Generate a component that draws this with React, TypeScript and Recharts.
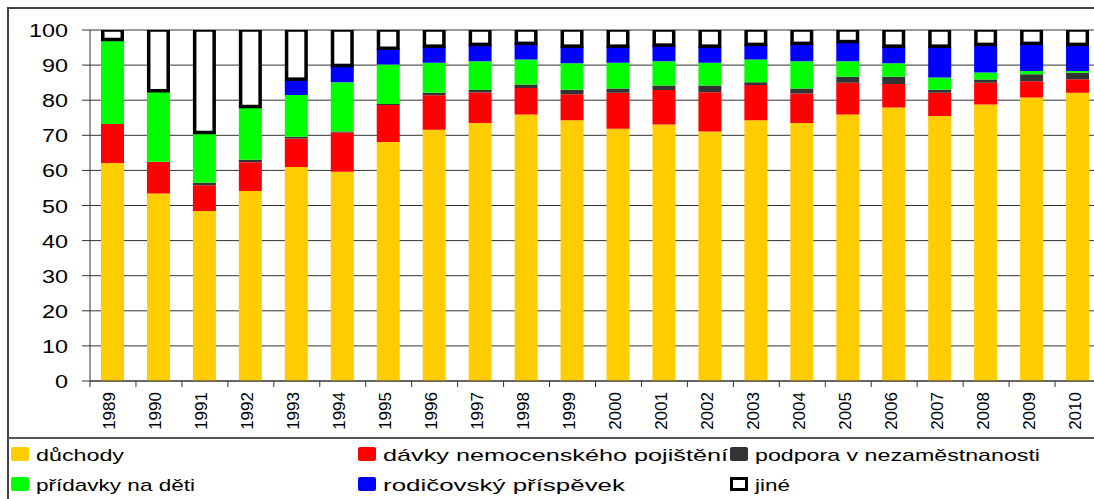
import { BarChart, Bar, XAxis, YAxis, CartesianGrid } from 'recharts';

const years = ['1989', '1990', '1991', '1992', '1993', '1994', '1995', '1996', '1997', '1998', '1999',
  '2000', '2001', '2002', '2003', '2004', '2005', '2006', '2007', '2008', '2009', '2010'];

const duchody = [62.1, 53.4, 48.4, 54.1, 61.0, 59.6, 68.1, 71.6, 73.5, 75.9, 74.3, 71.9, 73.1, 71.1, 74.3, 73.5, 75.9, 77.9, 75.5, 78.8, 80.8, 82.1];
const davky = [11.1, 9.1, 7.4, 8.2, 8.1, 11.2, 10.5, 9.8, 8.7, 7.6, 7.4, 10.2, 9.8, 11.2, 10.0, 8.4, 9.1, 6.7, 6.6, 6.2, 4.6, 3.9];
const podpora = [0, 0, 0.7, 0.7, 0.5, 0.3, 0.3, 0.7, 0.7, 1.0, 1.3, 1.2, 1.3, 1.9, 0.8, 1.4, 1.7, 2.1, 0.9, 0.9, 2.0, 1.8];
const pridavky = [24.1, 20.2, 14.3, 15.2, 11.9, 14.0, 11.3, 8.6, 8.2, 7.1, 7.5, 7.4, 6.9, 6.5, 6.5, 7.8, 4.4, 3.8, 3.5, 2.0, 0.9, 0.5];
const rodicovsky = [0, 0, 0, 0, 4.5, 4.8, 4.6, 4.7, 4.8, 4.6, 4.9, 4.7, 4.6, 4.7, 4.3, 5.1, 5.6, 4.9, 8.9, 8.0, 7.9, 7.6];
const jine = [2.7, 17.3, 29.2, 21.8, 14.0, 10.1, 5.2, 4.6, 4.1, 3.8, 4.6, 4.6, 4.3, 4.6, 4.1, 3.8, 3.3, 4.6, 4.6, 4.1, 3.8, 4.1];

const yTicks = [0, 10, 20, 30, 40, 50, 60, 70, 80, 90, 100];

// stacked bottom -> top, legend reads row by row in the same order
const series = [
  { key: 'duchody', name: 'důchody', color: '#FFCC00', values: duchody },
  { key: 'davky', name: 'dávky nemocenského pojištění', color: '#FF0000', values: davky },
  { key: 'podpora', name: 'podpora v nezaměstnanosti', color: '#333333', values: podpora },
  { key: 'pridavky', name: 'přídavky na děti', color: '#00FF00', values: pridavky },
  { key: 'rodicovsky', name: 'rodičovský příspěvek', color: '#0000FF', values: rodicovsky },
  { key: 'jine', name: 'jiné', color: '#FFFFFF', values: jine },
];

const data = years.map((year, i) => {
  const row: Record<string, string | number> = { year };
  series.forEach(s => { row[s.key] = s.values[i]; });
  return row;
});

const FONT = '"Liberation Sans", Arial, sans-serif';
const CHART_W = 1110;
const MARGIN = { top: 30, right: 9, left: 0, bottom: 0 };
const Y_AXIS_W = 90;
const BAND = (CHART_W - MARGIN.right - Y_AXIS_W) / years.length;

// legend layout (page coordinates)
const legendCols = [11, 358, 730];
const legendRows = [447, 477];
const legendTextW = [88, 345, 285, 159, 242, 35];

function YearTick({ x, y, payload }: any) {
  const bx = x - BAND / 2;
  const tx = x + 2.5;
  const ty = y + 11;
  return (
    <g>
      <line x1={bx} y1={y} x2={bx} y2={y + 6} stroke="#333" />
      <text x={tx} y={ty} transform={`rotate(-90, ${tx}, ${ty})`} textAnchor="end" fontSize={17} fontFamily={FONT} fill="#000">
        {payload.value}
      </text>
    </g>
  );
}

function ValueTick({ x, y, payload }: any) {
  const s = String(payload.value);
  return (
    <text x={x} y={y + 7} textAnchor="end" fontSize={18} fontFamily={FONT} fill="#000"
      textLength={s.length * 13} lengthAdjust="spacingAndGlyphs">
      {s}
    </text>
  );
}

function JineBox({ x, y, width, height }: any) {
  if (!height) return null;
  return <rect x={x + 1.75} y={y} width={width - 3.5} height={height} fill="#fff" stroke="#000" strokeWidth={3.5} />;
}

export default function App() {
  return (
    <div style={{ position: 'absolute', left: 0, top: 0, width: 1094, height: 499, overflow: 'hidden', background: '#fff' }}>
      {/* frame */}
      <div style={{ position: 'absolute', left: 7, top: 7, width: 1200, height: 600, border: '2px solid #404040' }} />
      <div style={{ position: 'absolute', left: 8, top: 437, width: 1200, height: 2, background: '#555' }} />

      <div style={{ position: 'absolute', left: 0, top: 0 }}>
        <BarChart width={CHART_W} height={499} data={data} margin={MARGIN} barSize={23}>
          <CartesianGrid horizontal vertical={false} stroke="#333" strokeOpacity={1} />
          <XAxis dataKey="year" interval={0} tickLine={false} tickSize={0} tickMargin={0}
            tick={<YearTick />} axisLine={{ stroke: '#333' }} height={118} />
          <YAxis domain={[0, 100]} ticks={yTicks} width={Y_AXIS_W} tickSize={8} tickMargin={14}
            tick={<ValueTick />} tickLine={{ stroke: '#333' }} axisLine={{ stroke: '#333' }} allowDataOverflow />
          {series.map(s => (
            s.key === 'jine'
              ? <Bar key={s.key} dataKey={s.key} name={s.name} stackId="a" fill="#fff" isAnimationActive={false} shape={<JineBox />} />
              : <Bar key={s.key} dataKey={s.key} name={s.name} stackId="a" fill={s.color} isAnimationActive={false} />
          ))}
        </BarChart>
      </div>

      {/* legend */}
      <svg width={1094} height={499} style={{ position: 'absolute', left: 0, top: 0, pointerEvents: 'none' }}>
        {series.map((s, i) => {
          const lx = legendCols[i % 3];
          const ly = legendRows[Math.floor(i / 3)];
          return (
            <g key={s.key}>
              {s.key === 'jine'
                ? <rect x={lx + 1.5} y={ly + 1.5} width={15} height={11} fill="#fff" stroke="#000" strokeWidth={3} />
                : <rect x={lx} y={ly} width={18} height={14} rx={2} fill={s.color} />}
              <text x={lx + 25} y={ly + 14} fontSize={17} fontFamily={FONT} fill="#000"
                textLength={legendTextW[i]} lengthAdjust="spacingAndGlyphs">
                {s.name}
              </text>
            </g>
          );
        })}
      </svg>
    </div>
  );
}
